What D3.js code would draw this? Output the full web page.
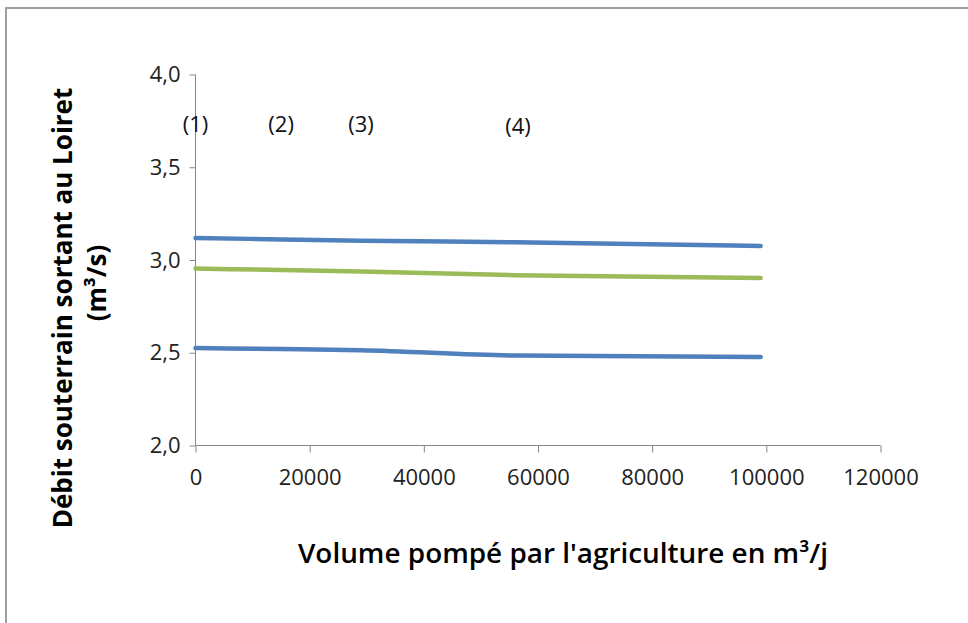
<!DOCTYPE html>
<html><head><meta charset="utf-8">
<script src="https://cdn.jsdelivr.net/npm/d3@7"></script>
<style>body{margin:0;background:#fff}svg{display:block}</style>
</head><body>
<svg id="c" width="968" height="623"></svg>
<script>
const volumes = [0, 15000, 29000, 56000, 99000];
const seriesTopBlue = [3.119, 3.111, 3.104, 3.096, 3.076];
const seriesGreen = [2.954, 2.946, 2.938, 2.918, 2.903];
const seriesLowBlue = [2.525, 2.520, 2.514, 2.485, 2.477];
const xTicks = [0, 20000, 40000, 60000, 80000, 100000, 120000];
const yTicks = [2.0, 2.5, 3.0, 3.5, 4.0];
const scenarioLabels = ["(1)", "(2)", "(3)", "(4)"];
const scenarioX = [0, 15000, 29000, 56500];
const scenarioY = [3.72, 3.72, 3.72, 3.71];

const svg = d3.select("#c");
svg.append("path").attr("d","M6,623 V8 H968").attr("fill","none").attr("stroke","#a0a0a0").attr("stroke-width",2);

const x = d3.scaleLinear().domain([0,120000]).range([195.5,880.5]);
const y = d3.scaleLinear().domain([2,4]).range([445.5,74.5]);
const font = "'Open Sans', sans-serif";

const xa = svg.append("g").attr("transform","translate(0,445.5)")
  .call(d3.axisBottom(x).tickValues(xTicks).tickSize(7).tickFormat(d3.format("d")));
const ya = svg.append("g").attr("transform","translate(195.5,0)")
  .call(d3.axisLeft(y).tickValues(yTicks).tickSize(6).tickFormat(d=>d.toFixed(1).replace(".",",")));
[xa,ya].forEach(a=>{
  a.select(".domain").attr("stroke","#868686");
  a.selectAll(".tick line").attr("stroke","#868686");
  a.selectAll("text").attr("fill","#222").style("font-family",font).style("font-size","22px");
});
xa.selectAll("text").attr("dy","1.35em");
ya.selectAll("text").attr("x",-15);
ya.select(".domain").attr("d",`M0,${y(4)}V${y(2)}`);
xa.select(".domain").attr("d",`M${x(0)},0H${x(120000)}`);

const line = d3.line().x((d,i)=>x(volumes[i])).y(d=>y(d)).curve(d3.curveMonotoneX);
[[seriesTopBlue,"#4F81BD"],[seriesGreen,"#9BBB59"],[seriesLowBlue,"#4F81BD"]].forEach(([s,c])=>{
  svg.append("path").attr("d",line(s)).attr("fill","none").attr("stroke",c).attr("stroke-width",4.5).attr("stroke-linecap","round");
});

svg.selectAll(".sl").data(scenarioLabels).enter().append("text")
  .attr("x",(d,i)=>x(scenarioX[i])).attr("y",(d,i)=>y(scenarioY[i])).attr("text-anchor","middle")
  .attr("dominant-baseline","middle").style("font-family",font).style("font-size","22px").attr("fill","#111").text(d=>d);

svg.append("text").attr("x",298).attr("y",563)
  .attr("textLength",530).attr("lengthAdjust","spacingAndGlyphs")
  .style("font-family",font).style("font-size","27px").style("font-weight","600").attr("fill","#000")
  .text("Volume pompé par l'agriculture en m³/j");

svg.append("text").attr("transform","translate(72,308) rotate(-90)").attr("text-anchor","middle")
  .style("font-family",font).style("font-size","26px").style("font-weight","bold").attr("fill","#000")
  .text("Débit souterrain sortant au Loiret");
svg.append("text").attr("transform","translate(106,283) rotate(-90)").attr("text-anchor","middle")
  .style("font-family",font).style("font-size","26px").style("font-weight","bold").attr("fill","#000")
  .text("(m³/s)");
</script>
</body></html>
